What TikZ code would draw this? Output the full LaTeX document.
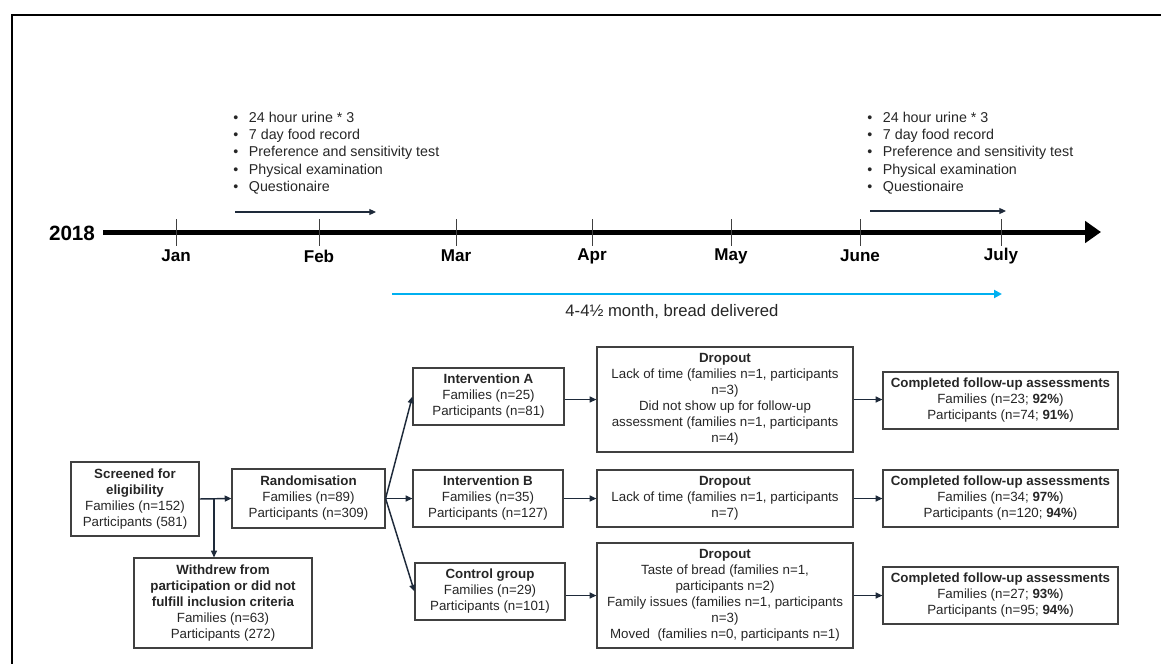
\documentclass[tikz,border=0pt]{standalone}
\usepackage{fontspec}
\setmainfont{Liberation Sans}
\usetikzlibrary{arrows.meta}
\definecolor{boxc}{HTML}{404040}
\definecolor{arrc}{HTML}{1E2A3A}
\definecolor{txt}{HTML}{262626}
\definecolor{cyanline}{RGB}{0,176,240}
\begin{document}
\begin{tikzpicture}[x=0.75pt,y=-0.75pt,
  fbox/.style={draw=boxc, line width=0.9pt, align=center, inner sep=0pt, text=txt,
    font=\fontsize{10}{12}\selectfont},
  arr/.style={draw=arrc, line width=1.1pt, -{Triangle[length=5pt,width=4.5pt]}},
  month/.style={font=\bfseries\fontsize{12.8}{14}\selectfont, text=black},
  tick/.style={draw=boxc, line width=0.75pt},
  blist/.style={anchor=west, align=left, inner sep=0pt, text=txt,
    font=\fontsize{10.7}{12.9}\selectfont}
]
\useasboundingbox (0,0) rectangle (1161,664);
% frame
\draw[line width=1.5pt] (12,664) -- (12,14.5) -- (1161,14.5);

% timeline
\node[font=\bfseries\fontsize{15.5}{18}\selectfont] (yr) at (72,233) {2018};
\coordinate (tlS) at (103,232);
\coordinate (tlE) at (1101,232);
\draw[line width=3.75pt, -{Triangle[length=12pt,width=16pt]}] (tlS) -- (tlE);
\foreach \x/\m/\n in {176/Jan/jan,319/Feb/feb,456/Mar/mar,592/Apr/apr,731/May/may,860/June/jun,1001/July/jul}{
  \draw[tick] (\x,219) -- (\x,246);
  \node[month] (\n) at (\x,256) {\m};
}

% bullet lists
\node[blist] (listL) at (233,153.5) {\begin{tabular}{@{}c@{\hspace{8pt}}l@{}}
\textbullet & 24 hour urine * 3\\
\textbullet & 7 day food record\\
\textbullet & Preference and sensitivity test\\
\textbullet & Physical examination\\
\textbullet & Questionaire
\end{tabular}};
\node[blist] (listR) at (867,153.5) {\begin{tabular}{@{}c@{\hspace{8pt}}l@{}}
\textbullet & 24 hour urine * 3\\
\textbullet & 7 day food record\\
\textbullet & Preference and sensitivity test\\
\textbullet & Physical examination\\
\textbullet & Questionaire
\end{tabular}};
\coordinate (aLs) at (235,212);
\coordinate (aLe) at (376,212);
\coordinate (aRs) at (870,211);
\coordinate (aRe) at (1006,211);
\draw[arr, line width=0.8pt] (aLs) -- (aLe);
\draw[arr, line width=0.8pt] (aRs) -- (aRe);

% bread delivery
\coordinate (cyS) at (392,294);
\coordinate (cyE) at (1002,294);
\draw[draw=cyanline, line width=2.2pt, -{Triangle[length=6pt,width=6pt]}] (cyS) -- (cyE);
\node[text=txt, font=\fontsize{12.5}{14}\selectfont] (bread) at (672,312) {4-4½ month, bread delivered};

% flowchart
\node[fbox, minimum width=96pt, minimum height=55.5pt] (scr) at (135,499)
  {\textbf{Screened for}\\\textbf{eligibility}\\Families (n=152)\\Participants (581)};
\node[fbox, minimum width=114.75pt, minimum height=44.25pt] (rnd) at (308.5,498.5)
  {\textbf{Randomisation}\\Families (n=89)\\Participants (n=309)};
\node[fbox, minimum width=133.5pt, minimum height=67.5pt] (wd) at (223,603)
  {\textbf{Withdrew from}\\\textbf{participation or did not}\\\textbf{fulfill inclusion criteria}\\Families (n=63)\\Participants (272)};

\node[fbox, minimum width=113.25pt, minimum height=42.75pt] (ia) at (488.5,396.5)
  {\textbf{Intervention A}\\Families (n=25)\\Participants (n=81)};
\node[fbox, minimum width=112.5pt, minimum height=42.75pt] (ib) at (488,498.5)
  {\textbf{Intervention B}\\Families (n=35)\\Participants (n=127)};
\node[fbox, minimum width=112.5pt, minimum height=42.75pt] (cg) at (490,591.5)
  {\textbf{Control group}\\Families (n=29)\\Participants (n=101)};

\node[fbox, minimum width=192pt, minimum height=78.75pt] (da) at (725,399.5)
  {\textbf{Dropout}\\Lack of time (families n=1, participants\\n=3)\\Did not show up for follow-up\\assessment (families n=1, participants\\n=4)};
\node[fbox, minimum width=192pt, minimum height=42.75pt] (db) at (725,498.5)
  {\textbf{Dropout}\\Lack of time (families n=1, participants\\n=7)};
\node[fbox, minimum width=192pt, minimum height=78.75pt] (dc) at (725,595.5)
  {\textbf{Dropout}\\Taste of bread (families n=1,\\participants n=2)\\Family issues (families n=1, participants\\n=3)\\Moved~ (families n=0, participants n=1)};

\node[fbox, minimum width=176.25pt, minimum height=42.75pt] (ca) at (1000.5,400.5)
  {\textbf{Completed follow-up assessments}\\Families (n=23; \textbf{92\%})\\Participants (n=74; \textbf{91\%})};
\node[fbox, minimum width=176.25pt, minimum height=42.75pt] (cb) at (1000.5,498.5)
  {\textbf{Completed follow-up assessments}\\Families (n=34; \textbf{97\%})\\Participants (n=120; \textbf{94\%})};
\node[fbox, minimum width=176.25pt, minimum height=42.75pt] (cc) at (1000.5,595.5)
  {\textbf{Completed follow-up assessments}\\Families (n=27; \textbf{93\%})\\Participants (n=95; \textbf{94\%})};

% connectors
\draw[arr] (scr.east) -- (rnd.west);
\coordinate (br) at (214,499);
\draw[arr] (br) -- (br |- wd.north);
\draw[arr] (rnd.east) -- (ia.west);
\draw[arr] (rnd.east) -- (ib.west);
\draw[arr] (rnd.east) -- (cg.west);
\draw[arr] (da.west -| ia.east) -- (da.west);
\draw[arr] (ib.east) -- (db.west);
\draw[arr] (dc.west -| cg.east) -- (dc.west);
\draw[arr] (da.east) -- (da.east -| ca.west);
\draw[arr] (db.east) -- (cb.west);
\draw[arr] (dc.east) -- (cc.west);
\end{tikzpicture}
\end{document}
